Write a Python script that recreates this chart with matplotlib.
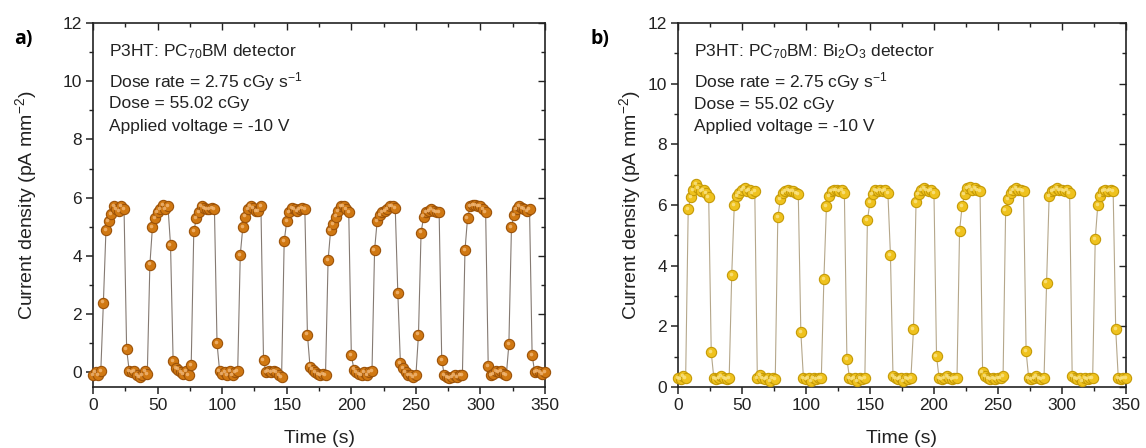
import numpy as np
import matplotlib
matplotlib.use('Agg')
import matplotlib.pyplot as plt
from matplotlib.transforms import ScaledTranslation

plt.rcParams['font.family'] = ['Liberation Sans', 'DejaVu Sans']
plt.rcParams['mathtext.fontset'] = 'custom'
plt.rcParams['mathtext.rm'] = 'Liberation Sans'
plt.rcParams['mathtext.it'] = 'Liberation Sans'
plt.rcParams['mathtext.default'] = 'regular'

# sampling times (s)
time_s = [0, 2, 4, 6, 8, 10, 12, 14, 16, 18,
          20, 22, 24, 26, 28, 30, 32, 34, 36, 38,
          40, 42, 44, 46, 48, 50, 52, 54, 56, 58,
          60, 62, 64, 66, 68, 70, 72, 74, 76, 78,
          80, 82, 84, 86, 88, 90, 92, 94, 96, 98,
          100, 102, 104, 106, 108, 110, 112, 114, 116, 118,
          120, 122, 124, 126, 128, 130, 132, 134, 136, 138,
          140, 142, 144, 146, 148, 150, 152, 154, 156, 158,
          160, 162, 164, 166, 168, 170, 172, 174, 176, 178,
          180, 182, 184, 186, 188, 190, 192, 194, 196, 198,
          200, 202, 204, 206, 208, 210, 212, 214, 216, 218,
          220, 222, 224, 226, 228, 230, 232, 234, 236, 238,
          240, 242, 244, 246, 248, 250, 252, 254, 256, 258,
          260, 262, 264, 266, 268, 270, 272, 274, 276, 278,
          280, 282, 284, 286, 288, 290, 292, 294, 296, 298,
          300, 302, 304, 306, 308, 310, 312, 314, 316, 318,
          320, 322, 324, 326, 328, 330, 332, 334, 336, 338,
          340, 342, 344, 346, 348, 350]

# a) P3HT:PC70BM current density (pA mm^-2)
j_pcbm = [-0.1, 0.0, -0.1, 0.05, 2.4, 4.9, 5.2, 5.45, 5.7, 5.6,
          5.55, 5.7, 5.6, 0.8, 0.05, 0.0, 0.05, -0.1, -0.15, -0.1,
          0.05, -0.05, 3.7, 5.0, 5.3, 5.5, 5.6, 5.75, 5.6, 5.7,
          4.37, 0.4, 0.15, 0.1, 0.0, -0.05, 0.05, -0.1, 0.25, 4.84,
          5.3, 5.5, 5.7, 5.65, 5.6, 5.6, 5.65, 5.6, 1.0, 0.05,
          -0.05, 0.0, -0.1, 0.05, -0.1, 0.0, 0.05, 4.04, 5.0, 5.35,
          5.6, 5.7, 5.65, 5.55, 5.55, 5.7, 0.41, 0.0, 0.05, 0.0,
          0.05, 0.0, -0.1, -0.15, 4.5, 5.2, 5.5, 5.65, 5.6, 5.55,
          5.6, 5.65, 5.6, 1.3, 0.2, 0.1, 0.0, -0.05, -0.1, -0.05,
          -0.1, 3.85, 4.9, 5.1, 5.35, 5.55, 5.7, 5.7, 5.6, 5.5,
          0.6, 0.1, 0.0, -0.05, -0.1, 0.0, -0.1, 0.0, 0.05, 4.2,
          5.2, 5.4, 5.5, 5.55, 5.6, 5.7, 5.7, 5.65, 2.73, 0.32,
          0.15, 0.0, -0.1, -0.1, -0.15, -0.1, 1.3, 4.8, 5.35, 5.5,
          5.55, 5.6, 5.55, 5.5, 5.5, 0.43, -0.1, -0.15, -0.2, -0.15,
          -0.1, -0.15, -0.1, -0.1, 4.2, 5.3, 5.7, 5.75, 5.75, 5.7,
          5.7, 5.6, 5.5, 0.23, -0.1, -0.05, 0.05, 0.0, 0.05, -0.05,
          -0.1, 0.97, 5.0, 5.4, 5.6, 5.7, 5.65, 5.6, 5.55, 5.6,
          0.6, 0.0, 0.05, 0.0, -0.05, 0.0]

# b) P3HT:PC70BM:Bi2O3 current density (pA mm^-2)
j_bi2o3 = [0.3, 0.25, 0.35, 0.3, 5.86, 6.25, 6.5, 6.7, 6.55, 6.45,
           6.5, 6.4, 6.25, 1.14, 0.3, 0.25, 0.3, 0.35, 0.3, 0.25,
           0.3, 3.7, 6.0, 6.3, 6.4, 6.5, 6.55, 6.45, 6.5, 6.4,
           6.45, 0.3, 0.4, 0.3, 0.25, 0.3, 0.2, 0.3, 0.25, 5.6,
           6.2, 6.4, 6.45, 6.5, 6.45, 6.45, 6.4, 6.35, 1.8, 0.3,
           0.25, 0.3, 0.2, 0.3, 0.25, 0.3, 0.3, 3.56, 5.95, 6.3,
           6.45, 6.5, 6.5, 6.45, 6.5, 6.4, 0.91, 0.3, 0.25, 0.3,
           0.2, 0.3, 0.25, 0.3, 5.49, 6.1, 6.35, 6.5, 6.45, 6.5,
           6.45, 6.5, 6.4, 4.36, 0.35, 0.3, 0.25, 0.3, 0.2, 0.3,
           0.25, 0.3, 1.9, 6.1, 6.35, 6.5, 6.55, 6.5, 6.45, 6.5,
           6.4, 1.02, 0.3, 0.25, 0.3, 0.35, 0.3, 0.25, 0.3, 0.3,
           5.15, 5.97, 6.35, 6.55, 6.6, 6.5, 6.55, 6.5, 6.45, 0.5,
           0.35, 0.3, 0.25, 0.3, 0.25, 0.3, 0.3, 0.35, 5.82, 6.2,
           6.4, 6.5, 6.55, 6.5, 6.5, 6.45, 1.17, 0.3, 0.25, 0.3,
           0.35, 0.3, 0.25, 0.3, 3.44, 6.3, 6.45, 6.5, 6.55, 6.5,
           6.5, 6.45, 6.5, 6.4, 0.35, 0.3, 0.25, 0.3, 0.2, 0.3,
           0.25, 0.3, 0.3, 4.87, 6.0, 6.3, 6.45, 6.5, 6.45, 6.5,
           6.45, 1.9, 0.3, 0.25, 0.3, 0.3]

info_a = [r'P3HT: PC$_{70}$BM detector',
          r'Dose rate = 2.75 cGy s$^{-1}$',
          'Dose = 55.02 cGy',
          'Applied voltage = -10 V']
info_b = [r'P3HT: PC$_{70}$BM: Bi$_2$O$_3$ detector',
          r'Dose rate = 2.75 cGy s$^{-1}$',
          'Dose = 55.02 cGy',
          'Applied voltage = -10 V']

fig = plt.figure(figsize=(11.46, 4.48), dpi=100)
ax1 = fig.add_axes([0.0812, 0.1362, 0.3944, 0.8125])
ax2 = fig.add_axes([0.5916, 0.1362, 0.3909, 0.8125])


def draw_panel(ax, y, face, edge, hi, line, ylim, info, info_y, ypad):
    ax.plot(time_s, y, '-', color=line, lw=0.8, zorder=2)
    ax.plot(time_s, y, 'o', ms=7.4, mfc=face, mec=edge, mew=0.8,
            zorder=3, clip_on=False)
    off = ax.transData + ScaledTranslation(-0.012, 0.012, fig.dpi_scale_trans)
    ax.plot(time_s, y, 'o', ms=2.6, mfc=hi, mec='none', alpha=0.8,
            transform=off, zorder=4, clip_on=False)
    ax.set_xlim(0, 350)
    ax.set_ylim(*ylim)
    ax.set_xticks([0, 50, 100, 150, 200, 250, 300, 350])
    ax.set_xticks(np.arange(25, 350, 50), minor=True)
    ax.set_yticks([0, 2, 4, 6, 8, 10, 12])
    ax.set_yticks([1, 3, 5, 7, 9, 11], minor=True)
    ax.tick_params(which='major', direction='out', length=5, width=1.1,
                   labelsize=12.5, colors='#222222', pad=3)
    ax.tick_params(which='minor', direction='out', length=3, width=1.0,
                   colors='#222222')
    sec_x = ax.secondary_xaxis('top')
    sec_x.set_xticks([0, 50, 100, 150, 200, 250, 300, 350])
    sec_x.set_xticks(np.arange(25, 350, 50), minor=True)
    sec_x.tick_params(which='both', direction='in', labeltop=False,
                      width=1.0, colors='#222222')
    sec_x.tick_params(which='major', length=5)
    sec_x.tick_params(which='minor', length=3)
    sec_y = ax.secondary_yaxis('right')
    sec_y.set_yticks([0, 2, 4, 6, 8, 10, 12])
    sec_y.set_yticks([1, 3, 5, 7, 9, 11], minor=True)
    sec_y.tick_params(which='both', direction='in', labelright=False,
                      width=1.0, colors='#222222')
    sec_y.tick_params(which='major', length=5)
    sec_y.tick_params(which='minor', length=3)
    sec_x.spines['top'].set_visible(False)
    sec_y.spines['right'].set_visible(False)
    for s in ax.spines.values():
        s.set_linewidth(1.2)
        s.set_color('#222222')
    ax.set_xlabel('Time (s)', fontsize=14, color='#222222', labelpad=12)
    ax.set_ylabel(r'Current density (pA mm$^{-2}$)', fontsize=14,
                  color='#222222', labelpad=ypad)
    for txt, yy in zip(info, info_y):
        ax.text(0.036, yy, txt, transform=ax.transAxes, fontsize=12.5,
                color='#222222', va='center', ha='left')


draw_panel(ax1, j_pcbm, '#d07812', '#9c5208', '#f3b978', '#857a72',
           (-0.5, 12), info_a, [0.922, 0.838, 0.778, 0.715], 17)
draw_panel(ax2, j_bi2o3, '#efc21e', '#c59a06', '#fbe58a', '#b5a78a',
           (0, 12), info_b, [0.92, 0.838, 0.776, 0.715], 3)

fig.text(23 / 1146, 1 - 39 / 448, 'a)', fontsize=14, fontweight='bold',
         ha='center', va='center', family=['Open Sans', 'DejaVu Sans'])
fig.text(600 / 1146, 1 - 39 / 448, 'b)', fontsize=14, fontweight='bold',
         ha='center', va='center', family=['Open Sans', 'DejaVu Sans'])

fig.savefig('out.png', dpi=100)
